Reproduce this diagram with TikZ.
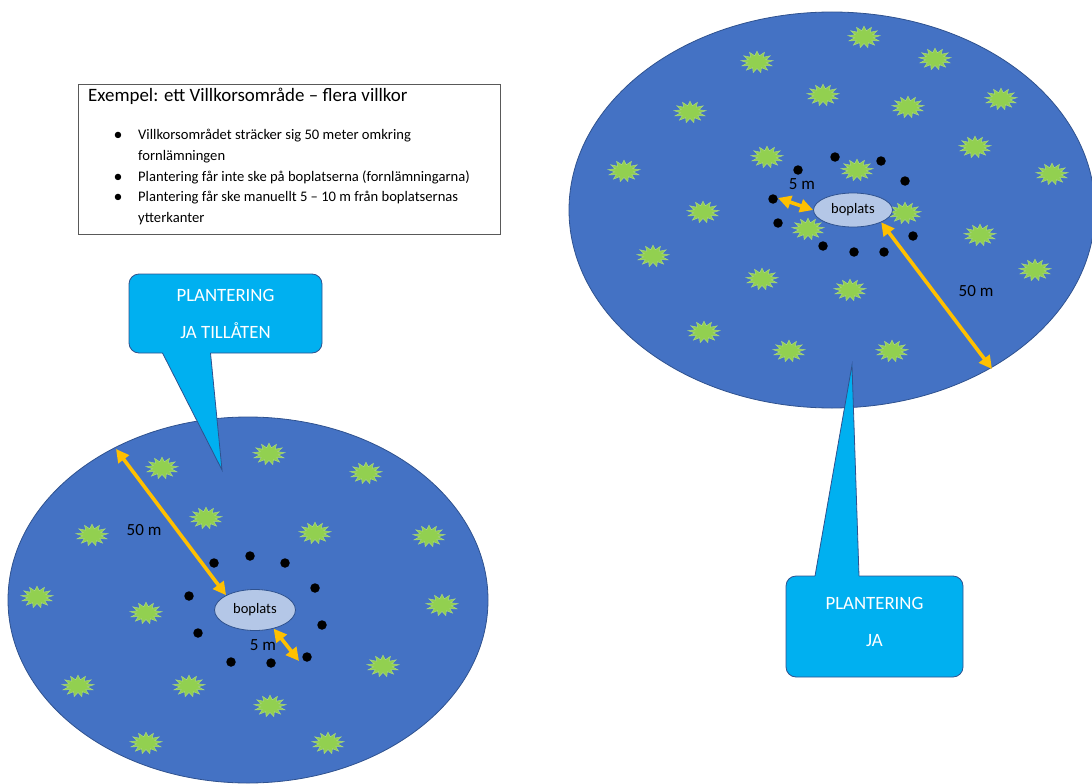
\documentclass[tikz,border=0pt]{standalone}
\usepackage{fontspec}
\setmainfont{Carlito}
\usepackage{tikz}
\usetikzlibrary{arrows.meta, positioning, shapes, calc}
\usepackage{xcolor}

\definecolor{omrade}{RGB}{68,114,196}
\definecolor{kant}{RGB}{47,82,143}
\definecolor{buskgron}{RGB}{146,208,80}
\definecolor{buskkant}{RGB}{169,215,125}
\definecolor{bopfarg}{RGB}{180,199,231}
\definecolor{pil}{RGB}{255,192,0}
\definecolor{prat}{RGB}{0,176,240}
\definecolor{ramgra}{RGB}{89,89,89}

\tikzset{
  omr/.style={fill=omrade, draw=kant, line width=0.8pt},
  buske/.style={star, star points=13, star point ratio=1.7, minimum size=32pt,
    inner sep=0pt, yscale=0.68, fill=buskgron, draw=buskkant, line width=0.5pt},
  punkt/.style={circle, fill=black, minimum size=9.5pt, inner sep=0pt},
  bop/.style={ellipse, fill=bopfarg, draw=kant, line width=0.8pt, inner sep=0pt,
    font=\fontsize{14.5}{16}\selectfont},
  matt/.style={draw=pil, line width=3.6pt,
    {Triangle[length=13pt,width=13pt]}-{Triangle[length=13pt,width=13pt]}},
  mattext/.style={font=\fontsize{17}{19}\selectfont, inner sep=0pt},
  pratbox/.style={fill=prat, draw=kant, line width=0.8pt, rounded corners=10pt,
    text=white, align=center, font=\fontsize{18.8}{37}\selectfont},
  ruta/.style={draw=ramgra, line width=0.8pt, fill=white},
  punkttext/.style={anchor=base west, inner sep=0pt, font=\fontsize{14.6}{17}\selectfont},
}

\begin{document}
\begin{tikzpicture}[x=1pt, y=-1pt]
  \useasboundingbox (0,0) rectangle (1092,784);

  % Left area
  \draw[omr] (248,600) ellipse [x radius=240pt, y radius=183pt];
  \foreach \x/\y [count=\i] in {269/454, 162/468, 366/473, 206/518, 92/535,
      315/533, 429/536, 37/597, 146/613, 442/605, 383/666, 78/686, 189/686,
      270/706, 146/743, 328/743}
    \node[buske] (bL\i) at (\x,\y) {};
  \foreach \x/\y [count=\i] in {250/556, 214/563, 285/563, 315/588, 189/596,
      322/625, 198/633, 231/662, 271/663, 307/657}
    \node[punkt] (pL\i) at (\x,\y) {};
  \node[bop, minimum width=81pt, minimum height=41pt] (bopL) at (255,610) {boplats};

  % Right area
  \draw[omr] (832,210) ellipse [x radius=263pt, y radius=198pt];
  \foreach \x/\y [count=\i] in {864/37, 757/62, 935/59, 823/95, 1001/99,
      690/112, 908/107, 975/147, 767/157, 857/170, 624/171, 1052/174,
      905/213, 703/212, 808/229, 980/235, 653/256, 1035/270, 762/279,
      850/290, 704/332, 789/351, 892/351}
    \node[buske] (bR\i) at (\x,\y) {};
  \foreach \x/\y [count=\i] in {835/157, 881/161, 798/170, 905/181, 773/199,
      778/223, 913/236, 823/246, 854/252, 884/252}
    \node[punkt] (pR\i) at (\x,\y) {};
  \node[bop, minimum width=79pt, minimum height=34pt] (bopR) at (853,210) {boplats};

  % Distances
  \coordinate (kantL) at (116,449);
  \coordinate (femL) at (299,661);
  \coordinate (kantR) at (992,369);
  \coordinate (femR) at (778,198);
  \draw[matt] (kantL) -- (bopL.north west);
  \draw[matt] (bopL.-45) -- (femL);
  \draw[matt] (femR) -- (bopR.west);
  \draw[matt] (bopR.south east) -- (kantR);
  \node[mattext] (tL50) at (144,530) {50 m};
  \node[mattext] (tL5) at (263,645) {5 m};
  \node[mattext] (tR50) at (976,291) {50 m};
  \node[mattext] (tR5) at (802,184) {5 m};

  % Callouts
  \node[pratbox, minimum width=193pt, minimum height=79pt] (pratL) at (225.5,313.5)
    {PLANTERING\\JA TILLÅTEN};
  \fill[prat] (162.5,350) -- (162.5,353) -- (222,470) -- (210.5,353) -- (210.5,350) -- cycle;
  \draw[kant, line width=0.8pt] (162.5,353) -- (222,470) -- (210.5,353);

  \node[pratbox, minimum width=177pt, minimum height=101pt, text depth=9pt] (pratR) at (874.5,626.5)
    {PLANTERING\\JA};
  \fill[prat] (815,579) -- (815,576) -- (852,365) -- (859,576) -- (859,579) -- cycle;
  \draw[kant, line width=0.8pt] (815,576) -- (852,365) -- (859,576);

  % Text box
  \node[ruta, anchor=north west, minimum width=422pt, minimum height=150pt] (ruta) at (78,84) {};
  \node[anchor=base west, inner sep=0pt, font=\fontsize{18.9}{21}\selectfont] (rubrik)
    at (88,101) {Exempel: ett Villkorsområde – flera villkor};
  \node[punkttext, anchor=base, font=\fontsize{18}{20}\selectfont] (k1) at (118,140) {•};
  \node[punkttext] (r1) at (138,139) {Villkorsområdet sträcker sig 50 meter omkring};
  \node[punkttext] (r2) at (138,160) {fornlämningen};
  \node[punkttext, anchor=base, font=\fontsize{18}{20}\selectfont] (k2) at (118,182) {•};
  \node[punkttext] (r3) at (138,181) {Plantering får inte ske på boplatserna (fornlämningarna)};
  \node[punkttext, anchor=base, font=\fontsize{18}{20}\selectfont] (k3) at (118,202) {•};
  \node[punkttext] (r4) at (138,201) {Plantering får ske manuellt 5 – 10 m från boplatsernas};
  \node[punkttext] (r5) at (138,222) {ytterkanter};
\end{tikzpicture}
\end{document}
